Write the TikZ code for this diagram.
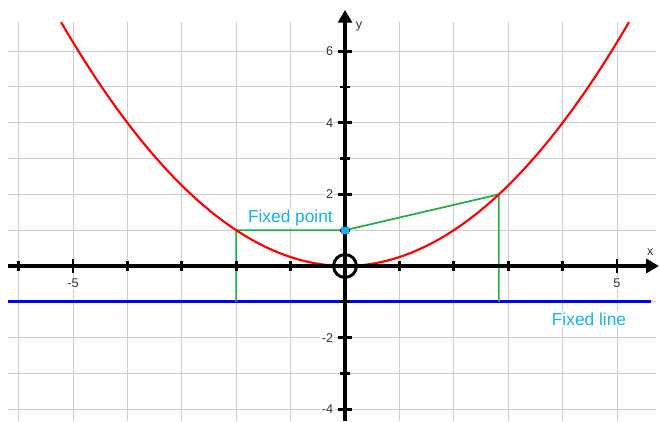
\documentclass[tikz,border=0pt]{standalone}
\usepackage{fontspec}
\setmainfont{Liberation Sans}
\usetikzlibrary{arrows.meta,positioning}
\definecolor{cFix}{RGB}{20,178,238}
\definecolor{cGrn}{RGB}{40,170,70}
\definecolor{cGrid}{RGB}{205,205,205}

\begin{document}
\begin{tikzpicture}[
    x=40.8pt, y=26.85pt,
    num/.style={font=\fontsize{9.5}{10}\selectfont,text=black!80,fill=white,inner sep=1pt},
    lbl/.style={font=\fontsize{13}{15}\selectfont,text=cFix,fill=white,inner sep=1pt},
    axis/.style={line width=2.3pt,-{Triangle[length=9.5pt,width=10.5pt]}},
    tickmark/.style={line width=2.1pt},
    grn/.style={cGrn,line width=1.3pt},
    node distance=6pt
  ]
  \useasboundingbox (-6.342,-4.330) rectangle (5.772,7.430);
  % grid
  \foreach \i in {-6,...,5} \draw[cGrid,line width=0.75pt] (\i,-4.33) -- (\i,6.82);
  \foreach \j in {-4,...,6} \draw[cGrid,line width=0.75pt] (-6.19,\j) -- (5.71,\j);
  % points
  \coordinate (O) at (0,0);
  \coordinate (F) at (0,1);
  \coordinate (P) at (-2,1);
  \coordinate (Pd) at (-2,-1);
  \coordinate (Q) at ({2*sqrt(2)},2);
  \coordinate (Qd) at ({2*sqrt(2)},-1);
  \coordinate (dl) at (-6.19,-1);
  \coordinate (dr) at (5.63,-1);
  \coordinate (fl) at (4.485,-1);
  % directrix and distances
  \draw[blue,line width=2.4pt] (dl) -- (dr);
  \draw[grn] (Pd) -- (P) -- (F) -- (Q) -- (Qd);
  % parabola
  \draw[red,line width=1.6pt,domain=-5.22:5.22,samples=100] plot (\x,{\x*\x/4});
  % axes
  \draw[axis] (-6.19,0) -- (5.77,0) node[num,above left=6pt and 2pt] {x};
  \draw[axis] (0,-4.33) -- (0,7.15) node[num,below right=7pt and 6pt] {y};
  \foreach \i in {-6,-4,-3,-2,-1,1,2,3,4}
    \draw[tickmark] ([yshift=-3.75pt]\i,0) -- ([yshift=3.75pt]\i,0);
  \foreach \j in {-3,-1,1,3,5}
    \draw[tickmark] ([xshift=-3.75pt]0,\j) -- ([xshift=3.75pt]0,\j);
  \foreach \i/\t in {-5/-5,5/5} {
    \draw[tickmark] ([yshift=-5.25pt]\i,0) -- ([yshift=5.25pt]\i,0);
    \coordinate (tx\i) at ([yshift=-5.25pt]\i,0);
    \node[num,below=3.5pt of tx\i] {\t};
  }
  \foreach \j/\t in {-4/-4,-2/-2,2/2,4/4,6/6} {
    \draw[tickmark] ([xshift=-5.25pt]0,\j) -- ([xshift=5.25pt]0,\j);
    \coordinate (ty\j) at ([xshift=-5.25pt]0,\j);
    \node[num,left=2.5pt of ty\j] {\t};
  }
  \draw[line width=2.2pt] (O) circle[radius=8.6pt];
  % labels
  \node[fill=cFix,minimum size=5.5pt,inner sep=0pt] (fp) at (F) {};
  \node[lbl,above left=-1pt and 5pt of fp] (fpl) {Fixed point};
  \node[lbl,below=7pt of fl] (fll) {Fixed line};
\end{tikzpicture}
\end{document}
